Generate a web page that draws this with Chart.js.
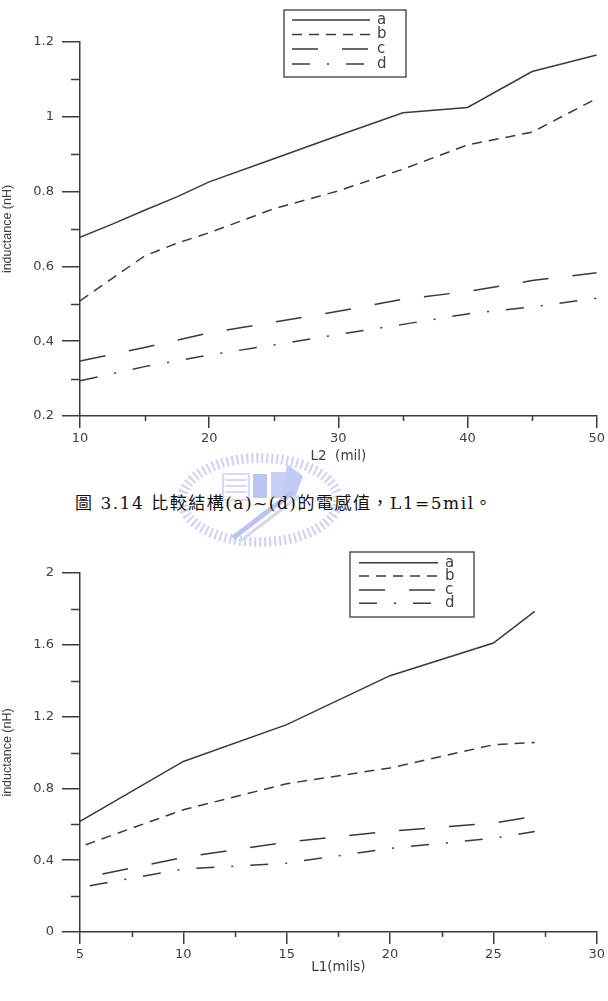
<!DOCTYPE html>
<html>
<head>
<meta charset="utf-8">
<script src="https://cdn.jsdelivr.net/npm/chart.js@4.4.1/dist/chart.umd.min.js"></script>
<style>
  html, body { margin: 0; padding: 0; background: #fff; }
  body { width: 608px; height: 1001px; position: relative; overflow: hidden; }
  canvas { position: absolute; left: 0; }
  #chart1 { top: 0; }
  #chart2 { top: 530px; }
  #caption {
    position: absolute; left: 75px; top: 491px;
    font-family: "DejaVu Serif", "Noto Sans CJK TC", serif;
    font-size: 17px; line-height: 24px; letter-spacing: 1.5px; color: #111; white-space: pre;
  }
  #logo { position: absolute; left: 175px; top: 452px; opacity: 0.6; }
</style>
</head>
<body>
<svg id="logo" width="170" height="96" viewBox="0 0 170 96">
  <ellipse cx="85" cy="48" rx="78" ry="42" fill="none" stroke="#aab6f0" stroke-width="10" stroke-dasharray="2 3"/>
  <rect x="48" y="22" width="26" height="26" fill="none" stroke="#b9c3f3" stroke-width="2"/>
  <line x1="50" y1="28" x2="72" y2="28" stroke="#b9c3f3" stroke-width="2"/>
  <line x1="50" y1="34" x2="72" y2="34" stroke="#b9c3f3" stroke-width="2"/>
  <line x1="50" y1="40" x2="72" y2="40" stroke="#b9c3f3" stroke-width="2"/>
  <rect x="78" y="22" width="14" height="24" fill="#8fa0ec"/>
  <rect x="96" y="20" width="16" height="26" fill="#a3b1ee"/>
  <polygon points="112,12 128,24 120,46 108,40" fill="#9aa9ee"/>
  <line x1="58" y1="86" x2="118" y2="40" stroke="#8d9eea" stroke-width="5"/>
  <line x1="64" y1="90" x2="124" y2="44" stroke="#b3bff2" stroke-width="3"/>
</svg>
<canvas id="chart1" width="608" height="470"></canvas>
<div id="caption">圖 3.14 比較結構(a)~(d)的電感值，L1=5mil。</div>
<canvas id="chart2" width="608" height="471"></canvas>
<script>
// chart 1: L1 = 5 mil, sweep L2
const lenL2 = [10, 12.5, 15, 17.5, 20, 25, 30, 35, 40, 45, 50];
const indA = [0.678, 0.713, 0.750, 0.786, 0.826, 0.888, 0.950, 1.011, 1.025, 1.121, 1.165];
const indB = [0.508, 0.568, 0.628, 0.662, 0.690, 0.754, 0.802, 0.860, 0.925, 0.959, 1.049];
const lenL2cd = [10, 15, 20, 25, 30, 35, 40, 45, 50];
const indC = [0.347, 0.383, 0.422, 0.451, 0.480, 0.512, 0.533, 0.562, 0.583];
const indD = [0.294, 0.332, 0.363, 0.390, 0.418, 0.445, 0.473, 0.492, 0.515];
const minorX1 = [15, 25, 35, 45];
const minorY1 = [0.3, 0.5, 0.7, 0.9, 1.1];

// chart 2: sweep L1
const lenL1 = [5, 10, 15, 20, 25, 27];
const ind2A = [0.616, 0.950, 1.155, 1.428, 1.610, 1.786];
const ind2B = [0.475, 0.681, 0.826, 0.914, 1.043, 1.056];
const ind2C = [0.297, 0.416, 0.501, 0.561, 0.607, 0.644];
const ind2D = [0.248, 0.351, 0.384, 0.466, 0.522, 0.560];
const minorX2 = [7.5, 12.5, 17.5, 22.5, 27.5];
const minorY2 = [0.2, 0.6, 1.0, 1.4, 1.8];

const AXIS = '#3c3c3c';
const INK = '#3a3a3a';
const TXT = '#404040';
const SANS = '"DejaVu Sans", sans-serif';

const DASH = {
  a: [],
  b: [10, 7],
  c: [26, 24],
  d: [18, 17, 2, 17],
};

function pts(xs, ys) {
  return xs.map((x, i) => ({ x, y: ys[i] }));
}

function ds(name, data, dashOffset) {
  return {
    label: name,
    data,
    borderColor: INK,
    borderWidth: 1.5,
    borderDash: DASH[name],
    borderDashOffset: dashOffset || 0,
    pointRadius: 0,
    tension: 0,
    fill: false,
  };
}

// boxed legend with line samples
const frameLegend = {
  id: 'frameLegend',
  afterDraw(chart, args, o) {
    const ctx = chart.ctx;
    ctx.save();
    ctx.strokeStyle = '#555';
    ctx.lineWidth = 1.5;
    ctx.strokeRect(o.x, o.y, o.w, o.h);
    chart.data.datasets.forEach((d, i) => {
      const y = o.rows[i];
      ctx.strokeStyle = INK;
      ctx.lineWidth = 1.5;
      ctx.setLineDash(d.borderDash || []);
      ctx.beginPath();
      ctx.moveTo(o.x1, y);
      ctx.lineTo(o.x2, y);
      ctx.stroke();
      ctx.setLineDash([]);
      ctx.fillStyle = TXT;
      ctx.font = '15px ' + SANS;
      ctx.textBaseline = 'middle';
      ctx.fillText(d.label, o.labelX, y);
    });
    ctx.restore();
  }
};

// short minor tick marks outside the axes
const minorTicks = {
  id: 'minorTicks',
  afterDraw(chart, args, o) {
    const { ctx, scales: { x, y } } = chart;
    ctx.save();
    ctx.strokeStyle = AXIS;
    ctx.lineWidth = 1.5;
    ctx.beginPath();
    o.xs.forEach(v => {
      const px = Math.round(x.getPixelForValue(v)) + 0.5;
      ctx.moveTo(px, x.top);
      ctx.lineTo(px, x.top + o.xLen);
    });
    o.ys.forEach(v => {
      const py = Math.round(y.getPixelForValue(v)) + 0.5;
      ctx.moveTo(y.right, py);
      ctx.lineTo(y.right - o.yLen, py);
    });
    ctx.stroke();
    ctx.restore();
  }
};

function axes(xr, yr, xTitle, xHeight) {
  return {
    x: {
      type: 'linear', min: xr[0], max: xr[1],
      ticks: { stepSize: xr[2], color: TXT, font: { family: SANS, size: 13 }, padding: 3, maxRotation: 0 },
      grid: { drawOnChartArea: false, drawTicks: true, tickLength: 12, color: AXIS, lineWidth: 1.5 },
      border: { display: true, color: AXIS, width: 1.5 },
      title: { display: true, text: xTitle, color: TXT, font: { family: SANS, size: 13.5 }, padding: 0 },
      afterFit: s => { s.height = xHeight; },
    },
    y: {
      min: yr[0], max: yr[1],
      ticks: { stepSize: yr[2], color: TXT, font: { family: SANS, size: 13 }, padding: 8,
        callback: v => String(+v.toFixed(2)) },
      grid: { drawOnChartArea: false, drawTicks: true, tickLength: 18, color: AXIS, lineWidth: 1.5 },
      border: { display: true, color: AXIS, width: 1.5 },
      title: { display: true, text: 'inductance (nH)', color: TXT,
        font: { family: '"Liberation Sans", Arial, sans-serif', size: 12.5 }, padding: 0 },
      afterFit: s => { s.width = 80; },
    },
  };
}

new Chart(document.getElementById('chart1'), {
  type: 'line',
  data: {
    datasets: [
      ds('a', pts(lenL2, indA)),
      ds('b', pts(lenL2, indB)),
      ds('c', pts(lenL2cd, indC)),
      ds('d', pts(lenL2cd, indD)),
    ],
  },
  options: {
    responsive: false,
    devicePixelRatio: 1,
    animation: false,
    events: [],
    layout: { padding: { top: 42, right: 11, bottom: 5, left: 0 } },
    scales: axes([10, 50, 10], [0.2, 1.2, 0.2], 'L2  (mil)', 49),
    plugins: {
      legend: { display: false },
      tooltip: { enabled: false },
      frameLegend: { x: 284, y: 10, w: 122, h: 67, x1: 292, x2: 370, labelX: 377, rows: [20, 34.5, 49, 64] },
      minorTicks: { xs: minorX1, ys: minorY1, xLen: 5, yLen: 9 },
    },
  },
  plugins: [frameLegend, minorTicks],
});

new Chart(document.getElementById('chart2'), {
  type: 'line',
  data: {
    datasets: [
      ds('a', pts(lenL1, ind2A)),
      ds('b', pts(lenL1, ind2B), 11),
      ds('c', pts(lenL1, ind2C), 27),
      ds('d', pts(lenL1, ind2D), 44),
    ],
  },
  options: {
    responsive: false,
    devicePixelRatio: 1,
    animation: false,
    events: [],
    layout: { padding: { top: 43, right: 11, bottom: 25, left: 0 } },
    scales: axes([5, 30, 5], [0, 2, 0.4], 'L1(mils)', 44),
    plugins: {
      legend: { display: false },
      tooltip: { enabled: false },
      frameLegend: { x: 350, y: 22, w: 124, h: 65, x1: 359, x2: 438, labelX: 445, rows: [32.7, 46, 60, 73.3] },
      minorTicks: { xs: minorX2, ys: minorY2, xLen: 5, yLen: 9 },
    },
  },
  plugins: [frameLegend, minorTicks],
});
</script>
</body>
</html>
